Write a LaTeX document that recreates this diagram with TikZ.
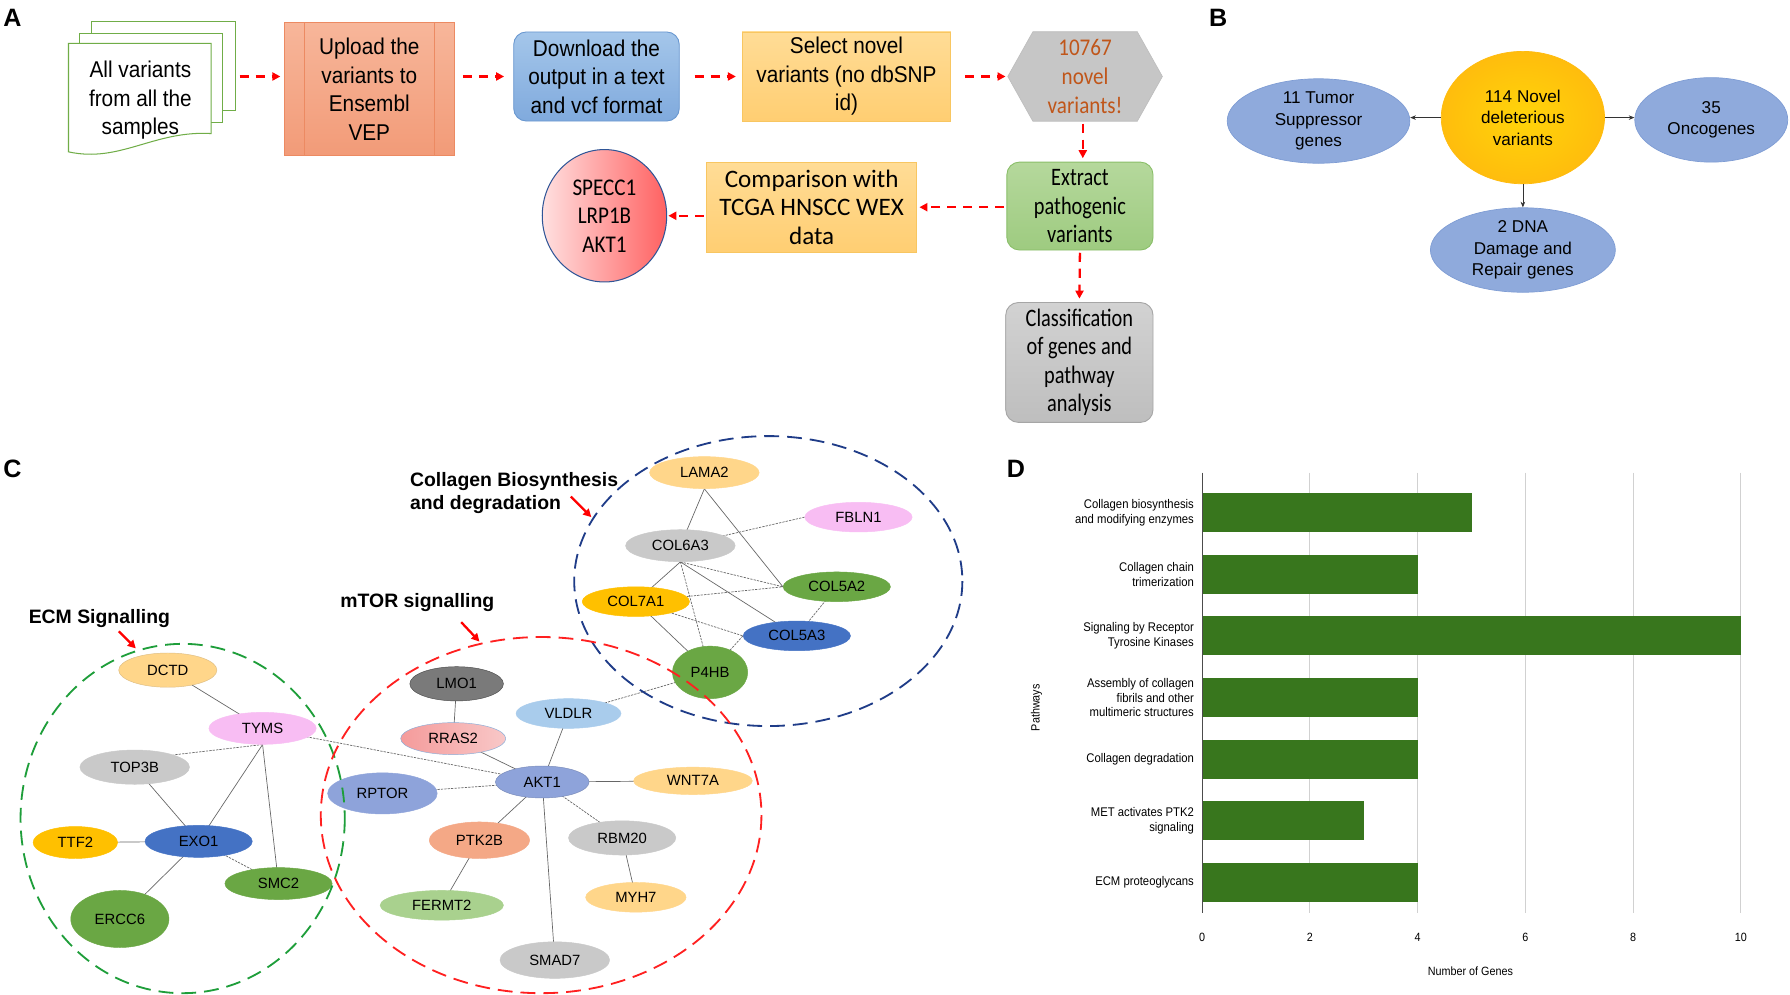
\documentclass[tikz,border=0pt]{standalone}
\usepackage{fontspec}
\setmainfont{Liberation Sans}
\newfontfamily\nar[FakeStretch=0.91]{Liberation Sans}
\newfontfamily\dnar[FakeStretch=0.9]{Liberation Sans}
\newfontfamily\calf{Carlito}
\newfontfamily\calfm[FakeStretch=0.88]{Carlito}
\newfontfamily\calfn[FakeStretch=0.81]{Carlito}
\usetikzlibrary{shapes.geometric,arrows.meta,backgrounds}
\definecolor{salmonA}{HTML}{F7B69A}
\definecolor{salmonB}{HTML}{F29B78}
\definecolor{salmonD}{HTML}{EC8A62}
\definecolor{blueA}{HTML}{A4C6EA}
\definecolor{blueB}{HTML}{80AADD}
\definecolor{blueD}{HTML}{6A98D0}
\definecolor{yelA}{HTML}{FFDC96}
\definecolor{yelB}{HTML}{FFCE72}
\definecolor{yelD}{HTML}{F8C661}
\definecolor{hexg}{HTML}{C6C6C6}
\definecolor{hexT}{HTML}{C0561A}
\definecolor{grnA}{HTML}{B5D89C}
\definecolor{grnB}{HTML}{9ECB80}
\definecolor{grnD}{HTML}{8ABF69}
\definecolor{gryA}{HTML}{D2D2D2}
\definecolor{gryB}{HTML}{BEBEBE}
\definecolor{gryD}{HTML}{A6A6A6}
\definecolor{docg}{HTML}{70AD47}
\definecolor{circB}{HTML}{2F5597}
\definecolor{bblue}{HTML}{8FAADC}
\definecolor{bblueD}{HTML}{7E9CD4}
\definecolor{bgold}{HTML}{FFC20E}
\definecolor{cOr}{HTML}{FFD68A}
\definecolor{cPk}{HTML}{F8BDF3}
\definecolor{cGy}{HTML}{C9C9C9}
\definecolor{cGd}{HTML}{FFC000}
\definecolor{cBl}{HTML}{4472C4}
\definecolor{cGn}{HTML}{6AA744}
\definecolor{cDg}{HTML}{7A7A7A}
\definecolor{cRr}{HTML}{F4A3A3}
\definecolor{cLb}{HTML}{A9CCEC}
\definecolor{cPw}{HTML}{8EA3DA}
\definecolor{cSa}{HTML}{F4A886}
\definecolor{cLg}{HTML}{A9D18E}
\definecolor{ringG}{HTML}{1E9E3A}
\definecolor{ringR}{HTML}{FF2020}
\definecolor{ringB}{HTML}{1F3C88}
\definecolor{barG}{HTML}{38761D}
\tikzset{
  plabel/.style={font=\bfseries\fontsize{22}{22}\selectfont},
  ftxt/.style={align=center, font=\nar\fontsize{20}{25}\selectfont, inner sep=0pt},
  ctxt/.style={align=center, font=\calf\fontsize{22}{25}\selectfont, inner sep=0pt},
  cntxt/.style={align=center, font=\calfn\fontsize{22}{25}\selectfont, inner sep=0pt},
  flowbox/.style={line width=0.8pt, inner sep=0pt},
  fa/.style={draw=red, line width=2pt, dash pattern=on 8pt off 6pt, -{Triangle[length=7pt,width=7pt]}},
  ba/.style={draw=black!80, line width=0.6pt, -{Stealth[length=5pt,width=4pt]}},
  bell/.style={ellipse, fill=bblue, draw=bblueD, line width=0.6pt, inner sep=0pt},
  btxt/.style={align=center, font=\fontsize{15}{19}\selectfont, inner sep=0pt},
  gene/.style={ellipse, inner sep=0pt, font=\fontsize{13}{13}\selectfont, line width=0.4pt},
  ed/.style={draw=black!60, line width=0.6pt},
  edd/.style={draw=black!60, line width=0.6pt, dash pattern=on 2pt off 1pt},
  ring/.style={line width=1.6pt, dash pattern=on 13pt off 7pt},
  clabel/.style={font=\bfseries\fontsize{17}{20}\selectfont, align=left, anchor=west, inner sep=0pt},
  pa/.style={draw=red, line width=2pt, -{Triangle[length=7pt,width=7pt]}},
  dlab/.style={font=\dnar\fontsize{11}{13}\selectfont, align=right, anchor=east, inner sep=0pt},
  dtick/.style={font=\dnar\fontsize{10.5}{12}\selectfont, inner sep=0pt},
  gbar/.style={fill=barG}
}
\begin{document}
\begin{tikzpicture}[x=1pt,y=-1pt]
\useasboundingbox (0,0) rectangle (1568,871);

%%%%%%%%%%%%%%%%%%%% Panel A
\node[plabel] (lA) at (11,16) {A};
% document stack
\filldraw[draw=docg, fill=white, line width=0.9pt] (80,19) rectangle (206,97);
\filldraw[draw=docg, fill=white, line width=0.9pt] (70,29) rectangle (195,107);
\filldraw[draw=docg, fill=white, line width=0.9pt] (60,38) -- (185,38) -- (185,117)
   .. controls (135,114) and (105,143) .. (60,133) -- cycle;
\node[ftxt] (docs) at (123,88) {All variants\\from all the\\samples};
\coordinate (docR) at (206,67);

\node[flowbox, top color=salmonA, bottom color=salmonB, draw=salmonD,
      minimum width=149, minimum height=116, ftxt] (up) at (323.5,78) {Upload the\\variants to\\Ensembl\\VEP};
\draw[salmonD, line width=0.8pt] ([xshift=18pt]up.north west) -- ([xshift=18pt]up.south west);
\draw[salmonD, line width=0.8pt] ([xshift=-18pt]up.north east) -- ([xshift=-18pt]up.south east);

\node[flowbox, rounded corners=11pt, top color=blueA, bottom color=blueB, draw=blueD,
      minimum width=145, minimum height=78, ftxt] (dl) at (522.5,67) {Download the\\output in a text\\and vcf format};

\node[flowbox, top color=yelA, bottom color=yelB, draw=yelD,
      minimum width=183, minimum height=78, ftxt] (sel) at (741.5,67) {Select novel\\variants (no dbSNP\\id)};

\node[minimum width=135, minimum height=78, inner sep=0pt, align=center,
      font=\calfm\fontsize{21}{25}\selectfont, text=hexT] (hex) at (950.5,67) {10767\\novel\\variants!};

\node[flowbox, rounded corners=11pt, top color=grnA, bottom color=grnB, draw=grnD,
      minimum width=128, minimum height=77, cntxt] (ext) at (946,180.5) {Extract\\pathogenic\\variants};

\node[flowbox, top color=yelA, bottom color=yelB, draw=yelD,
      minimum width=184, minimum height=79, ctxt] (cmp) at (711,181.5) {Comparison with\\TCGA HNSCC WEX\\data};

\node[ellipse, left color=red!12, right color=red!62, draw=circB, line width=0.9pt,
      minimum width=109, minimum height=116, inner sep=0pt, align=center,
      font=\calfm\fontsize{21}{25}\selectfont] (gen) at (529.5,189) {SPECC1\\LRP1B\\AKT1};

\node[flowbox, rounded corners=11pt, top color=gryA, bottom color=gryB, draw=gryD,
      minimum width=129, minimum height=105, cntxt] (cls) at (945.5,317.5) {Classification\\of genes and\\pathway\\analysis};

\draw[fa, shorten <=4pt, shorten >=3pt] (docR) -- (docR -| up.west);
\draw[fa, shorten <=7pt, shorten >=8pt] (up.east |- dl.west) -- (dl.west);
\draw[fa, shorten <=13pt, shorten >=5pt] (dl.east) -- (sel.west);
\draw[fa, shorten <=12pt, shorten >=2pt] (sel.east) -- (hex.west);
\draw[fa, shorten <=2pt, shorten >=3pt] ([xshift=-2pt]hex.south) -- ([xshift=-2pt]hex.south |- ext.north);
\draw[fa, shorten <=2pt, shorten >=2pt] (ext.west |- cmp.east) -- (cmp.east);
\draw[fa, shorten <=2pt, shorten >=1pt] (cmp.west |- gen.east) -- (gen.east);
\draw[fa, shorten <=2pt, shorten >=3pt] (ext.south) -- (cls.north);

%%%%%%%%%%%%%%%%%%%% Panel B
\node[plabel] (lB) at (1067,16) {B};
\node[ellipse, inner sep=0pt, minimum width=143, minimum height=116,
      inner color=bgold!70!yellow, outer color=bgold!92!orange, draw=bgold!90!orange, line width=0.6pt] (nov) at (1334,103) {};
\node[btxt] (novt) at (nov) {114 Novel\\deleterious\\variants};
\node[bell, minimum width=160, minimum height=74] (tsg) at (1155,106) {};
\node[btxt] (tsgt) at (tsg) {11 Tumor\\Suppressor\\genes};
\node[bell, minimum width=134, minimum height=74] (onc) at (1499,105) {};
\node[btxt] (onct) at (onc) {35\\Oncogenes};
\node[bell, minimum width=162, minimum height=74] (dna) at (1334,219) {};
\node[btxt] (dnat) at (dna) {2 DNA\\Damage and\\Repair genes};
\draw[ba] (nov.west) -- (tsg.east |- nov.west);
\draw[ba] (nov.east) -- (onc.west |- nov.east);
\draw[ba] (nov.south) -- (dna.north);

%%%%%%%%%%%%%%%%%%%% Panel C
\node[plabel] (lC) at (11,411) {C};
\node[clabel] (lcol) at (359,432) {Collagen Biosynthesis\\and degradation};
\node[clabel] (lmt) at (298,528) {mTOR signalling};
\node[clabel] (lecm) at (25,542) {ECM Signalling};

% genes
\node[gene, fill=cOr, draw=cOr!85!black!90, minimum width=86, minimum height=30] (dctd) at (147,587) {DCTD};
\node[gene, fill=cPk, draw=cPk, minimum width=94, minimum height=28] (tyms) at (230,638) {TYMS};
\node[gene, fill=cGy, draw=cGy, minimum width=96, minimum height=30] (top3b) at (118,672) {TOP3B};
\node[gene, fill=cGd, draw=cGd, minimum width=74, minimum height=28] (ttf2) at (66,738) {TTF2};
\node[gene, fill=cBl, draw=cBl, minimum width=94, minimum height=28] (exo1) at (174,737) {EXO1};
\node[gene, fill=cGn, draw=cGn, minimum width=94, minimum height=28] (smc2) at (244,774) {SMC2};
\node[gene, fill=cGn, draw=cGn, minimum width=86, minimum height=50] (ercc6) at (105,805) {ERCC6};
\node[gene, fill=cDg, draw=black!70, minimum width=82, minimum height=30] (lmo1) at (400,599) {LMO1};
\node[gene, left color=cRr!95!red, right color=cRr!60!white, draw=blueD!80, minimum width=92, minimum height=28] (rras2) at (397,647) {RRAS2};
\node[gene, fill=cLb, draw=cLb, minimum width=92, minimum height=26] (vldlr) at (498,625) {VLDLR};
\node[gene, fill=cPw, draw=cPw!85!black, minimum width=82, minimum height=28] (akt1) at (475,685) {AKT1};
\node[gene, fill=cPw, draw=cPw, minimum width=96, minimum height=36] (rptor) at (335,695) {RPTOR};
\node[gene, fill=cOr, draw=cOr, minimum width=104, minimum height=24] (wnt7a) at (607,684) {WNT7A};
\node[gene, fill=cSa, draw=cSa, minimum width=88, minimum height=32] (ptk2b) at (420,736) {PTK2B};
\node[gene, fill=cGy, draw=cGy, minimum width=94, minimum height=30] (rbm20) at (545,734) {RBM20};
\node[gene, fill=cLg, draw=cLg, minimum width=108, minimum height=26] (fermt2) at (387,793) {FERMT2};
\node[gene, fill=cOr, draw=cOr, minimum width=88, minimum height=26] (myh7) at (557,786) {MYH7};
\node[gene, fill=cGy, draw=cGy, minimum width=96, minimum height=32] (smad7) at (486,841) {SMAD7};
\node[gene, fill=cOr, draw=cOr, minimum width=96, minimum height=28] (lama2) at (617,414) {LAMA2};
\node[gene, fill=cPk, draw=cPk, minimum width=94, minimum height=26] (fbln1) at (752,453) {FBLN1};
\node[gene, fill=cGy, draw=cGy, minimum width=96, minimum height=28] (col6a3) at (596,478) {COL6A3};
\node[gene, fill=cGd, draw=cGd, minimum width=94, minimum height=26] (col7a1) at (557,527) {COL7A1};
\node[gene, fill=cGn, draw=cGn, minimum width=94, minimum height=26] (col5a2) at (733,514) {COL5A2};
\node[gene, fill=cBl, draw=cBl, minimum width=94, minimum height=26] (col5a3) at (698,557) {COL5A3};
\node[gene, fill=cGn, draw=cGn, minimum width=66, minimum height=46] (p4hb) at (622,589) {P4HB};

% background layer: page, hexagon, edges
\begin{pgfonlayer}{background}
\fill[white] (0,0) rectangle (1568,871);
\filldraw[fill=hexg, draw=gryB, line width=0.6pt] (hex.west) -- ([xshift=22pt]hex.north west) -- ([xshift=-22pt]hex.north east)
   -- (hex.east) -- ([xshift=-22pt]hex.south east) -- ([xshift=22pt]hex.south west) -- cycle;
\draw[ed] (dctd.center) -- (tyms.center);
\draw[edd] (tyms.south) -- (top3b.north east);
\draw[ed] (tyms.south) -- (exo1.center);
\draw[ed] (tyms.south) -- (smc2.center);
\draw[edd] (tyms.center) -- (akt1.center);
\draw[ed] (top3b.center) -- (exo1.center);
\draw[ed] (ttf2.center) -- (exo1.center);
\draw[edd] (exo1.center) -- (smc2.center);
\draw[ed] (exo1.center) -- (ercc6.center);
\draw[ed] (lmo1.center) -- (rras2.center);
\draw[ed] (rras2.center) -- (akt1.center);
\draw[ed] (vldlr.center) -- (akt1.center);
\draw[edd] (vldlr.center) -- (p4hb.center);
\draw[edd] (akt1.center) -- (rptor.center);
\draw[ed] (akt1.center) -- (wnt7a.center);
\draw[ed] (akt1.center) -- (ptk2b.center);
\draw[edd] (akt1.center) -- (rbm20.center);
\draw[ed] (akt1.center) -- (smad7.center);
\draw[ed] (ptk2b.center) -- (fermt2.center);
\draw[ed] (rbm20.center) -- (myh7.center);
\draw[ed] (lama2.south) -- (col6a3.center);
\draw[ed] (lama2.south) -- (col5a2.west);
\draw[edd] (fbln1.west) -- (col6a3.center);
\draw[ed] (col6a3.south) -- (col7a1.center);
\draw[edd] (col6a3.south) -- (col5a2.west);
\draw[ed] (col6a3.south) -- (col5a3.center);
\draw[edd] (col6a3.south) -- (p4hb.center);
\draw[edd] (col7a1.center) -- (col5a2.west);
\draw[edd] (col7a1.center) -- (col5a3.west);
\draw[ed] (col7a1.center) -- (p4hb.center);
\draw[edd] (col5a2.center) -- (col5a3.center);
\draw[edd] (col5a3.west) -- (p4hb.center);
\end{pgfonlayer}

% group rings
\draw[ring, draw=ringB] (673,509) ellipse [x radius=170, y radius=127];
\draw[ring, draw=ringG] (160,717) ellipse [x radius=142, y radius=153];
\draw[ring, draw=ringR] (474,714) ellipse [x radius=193, y radius=156];

% pointer arrows
\coordinate (p1a) at (500,435); \coordinate (p1b) at (518,453);
\coordinate (p2a) at (404,545); \coordinate (p2b) at (420,562);
\coordinate (p3a) at (104,553); \coordinate (p3b) at (119,568);
\draw[pa] (p1a) -- (p1b);
\draw[pa] (p2a) -- (p2b);
\draw[pa] (p3a) -- (p3b);

%%%%%%%%%%%%%%%%%%%% Panel D
\node[plabel] (lD) at (890,411) {D};
\foreach \v in {2,4,6,8,10} {
  \draw[black!18, line width=0.8pt] ({1053+47.2*\v},414) -- ({1053+47.2*\v},800);
}
\foreach \v in {0,2,4,6,8,10} {
  \node[dtick] (t\v) at ({1053+47.2*\v},821) {\v};
}
\foreach \i/\val/\txt in {1/5/{Collagen biosynthesis\\and modifying enzymes},
                          2/4/{Collagen chain\\trimerization},
                          3/10/{Signaling by Receptor\\Tyrosine Kinases},
                          4/4/{Assembly of collagen\\fibrils and other\\multimeric structures},
                          5/4/{Collagen degradation},
                          6/3/{MET activates PTK2\\signaling},
                          7/4/{ECM proteoglycans}} {
  \fill[gbar] (1053,{432+54*(\i-1)}) rectangle ({1053+47.2*\val},{466+54*(\i-1)});
  \node[dlab] (pw\i) at (1046,{449+54*(\i-1)}) {\txt};
}
\draw[black!70, line width=0.8pt] (1053,414) -- (1053,800);
\node[dtick] (xlab) at (1288,851) {Number of Genes};
\node[dtick, rotate=90] (ylab) at (908,620) {Pathways};
\end{tikzpicture}
\end{document}
